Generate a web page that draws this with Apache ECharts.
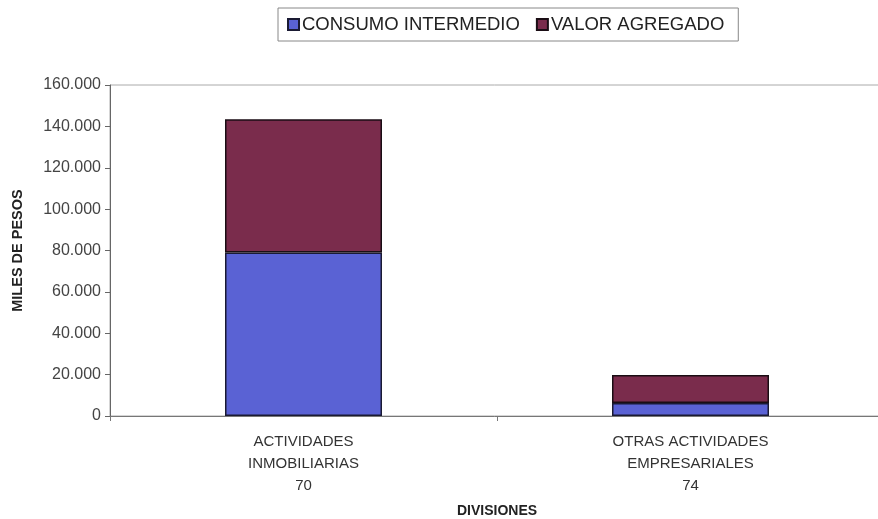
<!DOCTYPE html>
<html><head><meta charset="utf-8">
<script src="https://cdn.jsdelivr.net/npm/echarts@6/dist/echarts.min.js"></script>
<style>html,body{margin:0;padding:0;background:#fff}#c{width:878px;height:519px}</style>
</head><body><div id="c"></div>
<script>
var categories = ['ACTIVIDADES\nINMOBILIARIAS\n70', 'OTRAS ACTIVIDADES\nEMPRESARIALES\n74'];
var consumoIntermedio = [79000, 6300];
var valorAgregado = [64500, 13500];
var seriesNames = ['CONSUMO INTERMEDIO', 'VALOR AGREGADO'];

var chart = echarts.init(document.getElementById('c'));
var font = 'Liberation Sans, Arial, sans-serif';
function fmt(v){ return String(v).replace(/\B(?=(\d{3})+(?!\d))/g, '.'); }
chart.setOption({
  animation: false,
  textStyle: { fontFamily: font },
  legend: {
    top: 8, left: 278, icon: 'rect',
    itemWidth: 11, itemHeight: 11, itemGap: 16,
    borderColor: '#888', borderWidth: 1, padding: [7, 14, 7, 9],
    textStyle: { fontSize: 18.5, color: '#222', fontFamily: font, padding: [0, 0, 0, -2] },
    data: seriesNames
  },
  grid: { left: 110, top: 85, width: 774, bottom: 103, show: true, borderColor: '#aaa', borderWidth: 1,
          containLabel: false, outerBoundsMode: 'none' },
  xAxis: {
    type: 'category', data: categories,
    name: 'DIVISIONES', nameLocation: 'middle', nameGap: 88,
    nameTextStyle: { fontSize: 14, fontWeight: 'bold', color: '#222', fontFamily: font },
    axisLine: { lineStyle: { color: '#777' } },
    axisTick: { show: true, length: 5, lineStyle: { color: '#777' } },
    axisLabel: { fontSize: 15, color: '#333', lineHeight: 22, margin: 15, fontFamily: font }
  },
  yAxis: {
    type: 'value', min: 0, max: 160000, interval: 20000,
    name: 'MILES DE PESOS', nameLocation: 'middle', nameGap: 85,
    nameTextStyle: { fontSize: 14.5, fontWeight: 'bold', color: '#222', fontFamily: font },
    axisLine: { show: true, lineStyle: { color: '#666' } },
    axisTick: { show: true, length: 5, lineStyle: { color: '#666' } },
    splitLine: { show: false },
    axisLabel: { fontSize: 16, color: '#444', margin: 9, fontFamily: font, formatter: fmt }
  },
  series: [
    { name: seriesNames[0], type: 'bar', stack: 's', data: consumoIntermedio, barWidth: 157,
      itemStyle: { color: '#5a62d4', borderColor: '#1a1a33', borderWidth: 1.5 } },
    { name: seriesNames[1], type: 'bar', stack: 's', data: valorAgregado, barWidth: 157,
      itemStyle: { color: '#7a2c4c', borderColor: '#1a0d14', borderWidth: 1.5 } }
  ]
});
</script></body></html>
